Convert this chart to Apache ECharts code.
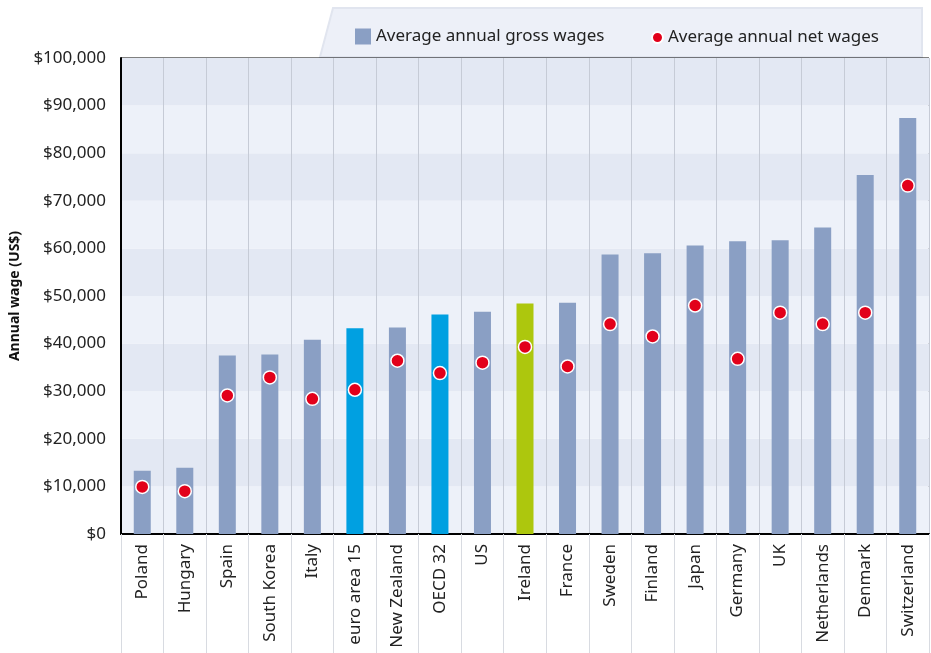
<!DOCTYPE html>
<html><head><meta charset="utf-8">
<script src="https://cdn.jsdelivr.net/npm/echarts@6/dist/echarts.min.js"></script>
<style>html,body{margin:0;padding:0;background:#fff}#c{width:931px;height:653px}</style>
</head><body><div id="c"></div>
<script>
const categories = ['Poland','Hungary','Spain','South Korea','Italy','euro area 15','New Zealand','OECD 32','US','Ireland','France','Sweden','Finland','Japan','Germany','UK','Netherlands','Denmark','Switzerland'];
const grossWages = [13300,13900,37500,37700,40800,43200,43400,46100,46700,48400,48600,58700,59000,60600,61500,61700,64400,75400,87400];
const netWages = [9900,9000,29100,32900,28400,30300,36400,33800,36000,39300,35200,44100,41500,48000,36800,46500,44100,46500,73200];
const yTicks = [0,10000,20000,30000,40000,50000,60000,70000,80000,90000,100000];

const FONT = 'Noto Sans';
const highlight = {'euro area 15':'#00a0e1','OECD 32':'#00a0e1','Ireland':'#adc70d'};
const barColor = '#8a9fc4';
const fmt = v => '$' + String(v).replace(/\B(?=(\d{3})+(?!\d))/g, ',');

const chart = echarts.init(document.getElementById('c'), null, {renderer:'canvas'});
chart.setOption({
  animation:false,
  backgroundColor:'#fff',
  graphic:[{
    type:'polygon', z:-1,
    shape:{points:[[333,8],[922,8],[922,57],[320,57]]},
    style:{fill:'#edf0f8', stroke:'#e1e5ef', lineWidth:2}
  }],
  legend:[{
    data:[{name:'Average annual gross wages', icon:'rect'}],
    left:355, top:28, padding:0, itemWidth:16, itemHeight:16, itemGap:5,
    textStyle:{fontFamily:FONT, fontSize:17, color:'#222'}
  },{
    data:[{name:'Average annual net wages', icon:'circle'}],
    left:651, top:29, padding:0, itemWidth:11, itemHeight:11, itemGap:6,
    textStyle:{fontFamily:FONT, fontSize:17, color:'#222'}
  }],
  grid:{left:121, right:2, top:58, bottom:119, show:true, borderColor:'#000', borderWidth:1, backgroundColor:'transparent'},
  xAxis:{
    type:'category', data:categories,
    axisLine:{lineStyle:{color:'#000', width:2}},
    axisTick:{show:true, length:120, lineStyle:{color:'#d8dbe1', width:1}},
    splitLine:{show:true, lineStyle:{color:'#c6cbd6', width:1}},
    axisLabel:{rotate:90, margin:10, fontFamily:FONT, fontSize:17, color:'#222', interval:0}
  },
  yAxis:{
    type:'value', min:yTicks[0], max:yTicks[yTicks.length-1], interval:yTicks[1]-yTicks[0],
    name:'Annual wage (US$)', nameLocation:'middle', nameGap:95,
    nameTextStyle:{fontFamily:FONT, fontSize:14, fontWeight:'bold', color:'#111'},
    axisLine:{show:true, lineStyle:{color:'#000', width:2}},
    axisTick:{show:false},
    splitLine:{show:false},
    splitArea:{show:true, areaStyle:{color:['#edf1f9','#e3e8f3']}},
    axisLabel:{formatter:fmt, fontFamily:FONT, fontSize:17, color:'#222', margin:15}
  },
  series:[{
    name:'Average annual gross wages', type:'bar', barWidth:17,
    itemStyle:{color:barColor},
    data:grossWages.map((v,i)=>highlight[categories[i]]?{value:v,itemStyle:{color:highlight[categories[i]]}}:v),
    z:2
  },{
    name:'Average annual net wages', type:'scatter', symbol:'circle', symbolSize:13,
    itemStyle:{color:'#e2001a', borderColor:'#fff', borderWidth:1.5, opacity:1},
    data:netWages, z:3
  }]
});
</script></body></html>
